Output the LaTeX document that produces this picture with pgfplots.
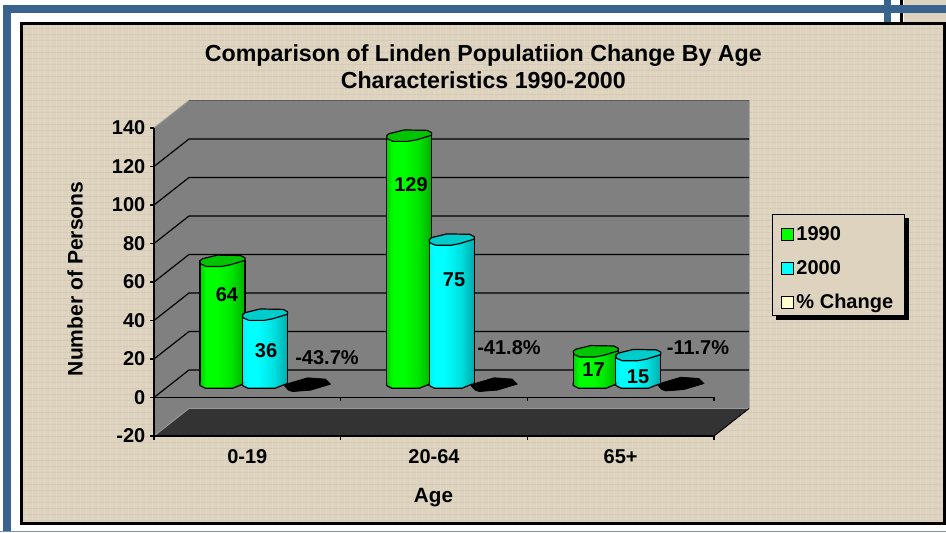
\documentclass[border=0pt]{standalone}
\usepackage{pgfplots}
\pgfplotsset{compat=1.18}
\usepackage{fontspec}
\setmainfont{Liberation Sans}
\definecolor{panel}{HTML}{DDD3BE}
\definecolor{frameblue}{HTML}{38638F}
\definecolor{wall}{HTML}{808080}
\definecolor{floorc}{HTML}{333333}
\definecolor{greentop}{HTML}{00C400}
\definecolor{cyantop}{HTML}{00CCCC}
\definecolor{swgreen}{HTML}{00FF00}
\definecolor{swcyan}{HTML}{00FFFF}
\definecolor{swyellow}{HTML}{FFFFCC}
\pgfdeclarehorizontalshading{greencyl}{100bp}{color(0bp)=(black!18!swgreen);color(25bp)=(black!18!swgreen);color(32bp)=(swgreen);color(45bp)=(swgreen);color(60bp)=(black!10!swgreen);color(75bp)=(black!32!swgreen);color(100bp)=(black!32!swgreen)}
\pgfdeclarehorizontalshading{cyancyl}{100bp}{color(0bp)=(black!5!swcyan);color(25bp)=(black!5!swcyan);color(30bp)=(swcyan);color(42bp)=(swcyan);color(60bp)=(black!12!swcyan);color(75bp)=(black!33!swcyan);color(100bp)=(black!33!swcyan)}
\def\Pm#1#2{\pgfpathmoveto{\pgfpoint{#1*.75pt}{#2*.75pt}}}
\def\Pl#1#2{\pgfpathlineto{\pgfpoint{#1*.75pt}{#2*.75pt}}}
\def\TopPath{\Pm{-22.5}{0}\Pl{-20}{2}\Pl{-5}{5.7}\Pl{18}{5.3}\Pl{22.5}{3}\Pl{22.5}{0.5}\Pl{8}{-4}\Pl{-1}{-5.7}\Pl{-16}{-5.7}\Pl{-22}{-3}\pgfpathclose}
\def\BaseFill{\Pm{-22.5}{1.5}\Pl{-22.5}{-1.5}\Pl{-17}{-4.3}\Pl{10}{-4.3}\Pl{17}{-1.5}\Pl{22.5}{0.5}\Pl{22.5}{1.5}\pgfpathclose}
\def\BaseLine{\Pm{-22.5}{1.5}\Pl{-22.5}{-1.5}\Pl{-17}{-4.3}\Pl{10}{-4.3}\Pl{17}{-1.5}\Pl{22.5}{0.5}\Pl{22.5}{1.5}}
\pgfdeclareplotmark{gtop}{\pgfsetroundjoin\pgfsetlinewidth{.9pt}\pgfsetstrokecolor{black}\pgfsetfillcolor{greentop}\TopPath\pgfusepathqfillstroke}
\pgfdeclareplotmark{ctop}{\pgfsetroundjoin\pgfsetlinewidth{.9pt}\pgfsetstrokecolor{black}\pgfsetfillcolor{cyantop}\TopPath\pgfusepathqfillstroke}
\pgfdeclareplotmark{gbase}{\pgfsetroundjoin\pgfsetlinewidth{.9pt}\pgfsetstrokecolor{black}\BaseFill\pgfshadepath{greencyl}{0}\pgfusepath{discard}\BaseLine\pgfusepathqstroke}
\pgfdeclareplotmark{cbase}{\pgfsetroundjoin\pgfsetlinewidth{.9pt}\pgfsetstrokecolor{black}\BaseFill\pgfshadepath{cyancyl}{0}\pgfusepath{discard}\BaseLine\pgfusepathqstroke}
\pgfdeclareplotmark{disc}{\pgfsetroundjoin\pgfsetlinewidth{.6pt}\pgfsetstrokecolor{black}\pgfsetfillcolor{black}\Pm{-23}{-1}\Pl{-19}{-5.3}\Pl{-15}{-6.7}\Pl{3}{-5.3}\Pl{23}{.7}\Pl{18}{5.7}\Pl{0}{7}\Pl{-18}{1.7}\pgfpathclose\pgfusepathqfillstroke}
% one cylinder: shading, base mark, top mark, x, value
\newcommand\cyl[5]{%
  \addplot[forget plot,ybar,bar width=33.75pt,bar shift=0pt,draw=black,line width=.9pt,shade,shading=#1] coordinates {(#4,#5)};
  \addplot[forget plot,only marks,mark=#2] coordinates {(#4,0)};
  \addplot[forget plot,only marks,mark=#3] coordinates {(#4,#5)};
}
\newcommand\glin[1]{\addplot[forget plot,black,line width=.9pt,no marks] coordinates {#1};}
\begin{document}
\begin{tikzpicture}
\useasboundingbox (0pt,0pt) rectangle (709.5pt,399pt);
\begin{scope}[x=.75pt,y=-.75pt,shift={(0pt,399pt)}]
  \fill[white] (0,0) rectangle (946,532);
  \fill[panel] (904,0) rectangle (946,22);
  \fill[black] (900,0) rectangle (903,22);
  \fill[frameblue] (883.5,0) rectangle (891,22);
  \fill[frameblue] (3.3,5) rectangle (946,13);
  \fill[frameblue] (3.3,5) rectangle (11,532);
  \fill[frameblue!70] (0,531) rectangle (946,532);
  \fill[panel] (21,23) rectangle (945,524);
  \foreach \t in {26,32,...,942} {\draw[white,opacity=.10,line width=.5pt] (\t,25) -- (\t,522);}
  \foreach \t in {28,34,...,520} {\draw[black!60!brown,opacity=.05,line width=.5pt] (23,\t) -- (943,\t);}
  \draw[black,line width=2.25pt] (21,23.2) -- (944.8,23.2) -- (944.8,523.5) -- (21,523.5) -- cycle;
  \fill[black] (776.3,218.3) rectangle (908.8,319.9);
  \draw[black,line width=.8pt,fill=panel] (772.3,214.3) rectangle (904.3,315.7);
\end{scope}
% frame of the 3-D plot
\begin{axis}[
  at={(115.5pt,72pt)},anchor=south west,scale only axis,width=420pt,height=231pt,
  xmin=0,xmax=3,ymin=-20,ymax=140,clip=false,axis on top,
  axis x line*=bottom,axis y line*=left,axis line style={-,black,line width=.8pt},
  ytick={-20,0,20,40,60,80,100,120,140},
  xtick={0.5,1.5,2.5},xticklabels={0-19,20-64,65+},
  minor xtick={0,1,2,3},
  tick align=outside,major tick length=3pt,minor tick length=3pt,
  tick style={black,line width=.8pt},major x tick style={draw=none},
  tick label style={font=\fontsize{15}{18}\bfseries\selectfont},
  /pgf/number format/assume math mode=true,
  xticklabel style={yshift=-3.5pt},
  yticklabel style={xshift=0pt},
  xlabel={Age},ylabel={Number of Persons},
  xlabel style={at={(axis description cs:0.4991,-0.2)},anchor=center,font=\fontsize{15.5}{18}\bfseries\selectfont},
  ylabel style={at={(axis description cs:-0.141,0.51)},anchor=center,font=\fontsize{15.8}{18}\bfseries\selectfont},
  title={Comparison of Linden Populatiion Change By Age\\Characteristics 1990-2000},
  title style={align=center,at={(axis description cs:0.588,1.085)},anchor=south,
    font=\fontsize{17.4}{20.25}\bfseries\selectfont},
]
\fill[wall] (axis cs:0,-20) -- (axis cs:0,140) -- (axis cs:0.1875,154.286) -- (axis cs:3.1875,154.286) -- (axis cs:3.1875,-5.714) -- (axis cs:3,-20) -- cycle;
\fill[floorc] (axis cs:0,-20) -- (axis cs:3,-20) -- (axis cs:3.1875,-5.714) -- (axis cs:0.1875,-5.714) -- cycle;
\draw[black!40,line width=.7pt] (axis cs:0,-20) -- (axis cs:0.1875,-5.714) -- (axis cs:3.1875,-5.714);
\draw[black!40,line width=.7pt] (axis cs:0,140) -- (axis cs:0.1875,154.286);
\draw[black!65,line width=.7pt] (axis cs:0.1875,154.286) -- (axis cs:3.1875,154.286);
\draw[black!35,line width=.7pt] (axis cs:3.1875,154.286) -- (axis cs:3.1875,-5.714);
\draw[black,line width=.7pt] (axis cs:3,-20) -- (axis cs:3.1875,-5.714);
\glin{(0,0)(0.1875,14.286)(3.1875,14.286)}
\glin{(0,20)(0.1875,34.286)(3.1875,34.286)}
\glin{(0,40)(0.1875,54.286)(3.1875,54.286)}
\glin{(0,60)(0.1875,74.286)(3.1875,74.286)}
\glin{(0,80)(0.1875,94.286)(3.1875,94.286)}
\glin{(0,100)(0.1875,114.286)(3.1875,114.286)}
\glin{(0,120)(0.1875,134.286)(3.1875,134.286)}
\glin{(0,0)(3,0)(3,-2)}
\glin{(1,0)(1,-2)}
\glin{(2,0)(2,-2)}
\end{axis}
% the cylinders
\begin{axis}[
  at={(128.75pt,82.125pt)},anchor=south west,scale only axis,width=420pt,height=231pt,
  xmin=0,xmax=3,ymin=-20,ymax=140,clip=false,hide axis,
  legend style={at={(axis description cs:1.1904,0.5)},anchor=center,
    draw=none,fill=none,
    font=\fontsize{15}{18}\bfseries\selectfont,
    inner xsep=5.6pt,inner ysep=4.4pt,row sep=9.5pt,
    /tikz/every even column/.append style={column sep=4.2pt}},
  legend cell align=left,
  legend image code/.code={\draw[#1,line width=.8pt] (0pt,-4.5pt) rectangle (9pt,4.5pt);},
]
\addlegendimage{draw=black,fill=swgreen}
\addlegendimage{draw=black,fill=swcyan}
\addlegendimage{draw=black,fill=swyellow}
\legend{1990,2000,\% Change}
\cyl{greencyl}{gbase}{gtop}{0.272}{64}
\cyl{cyancyl}{cbase}{ctop}{0.5}{36}
\addplot[forget plot,only marks,mark=disc] coordinates {(0.728,-0.437)};
\cyl{greencyl}{gbase}{gtop}{1.272}{129}
\cyl{cyancyl}{cbase}{ctop}{1.5}{75}
\addplot[forget plot,only marks,mark=disc] coordinates {(1.728,-0.418)};
\cyl{greencyl}{gbase}{gtop}{2.272}{17}
\cyl{cyancyl}{cbase}{ctop}{2.5}{15}
\addplot[forget plot,only marks,mark=disc] coordinates {(2.728,-0.117)};
\end{axis}
\begin{scope}[x=.75pt,y=-.75pt,shift={(0pt,399pt)},every node/.style={font=\fontsize{15}{18}\bfseries\selectfont,inner sep=0pt}]
  \node at (227,295) {64};
  \node at (266,351) {36};
  \node at (327,358) {-43.7\%};
  \node at (411,185) {129};
  \node at (454,280) {75};
  \node at (509,348) {-41.8\%};
  \node at (593.5,370) {17};
  \node at (638,377) {15};
  \node at (698,348) {-11.7\%};
\end{scope}
\end{tikzpicture}
\end{document}
